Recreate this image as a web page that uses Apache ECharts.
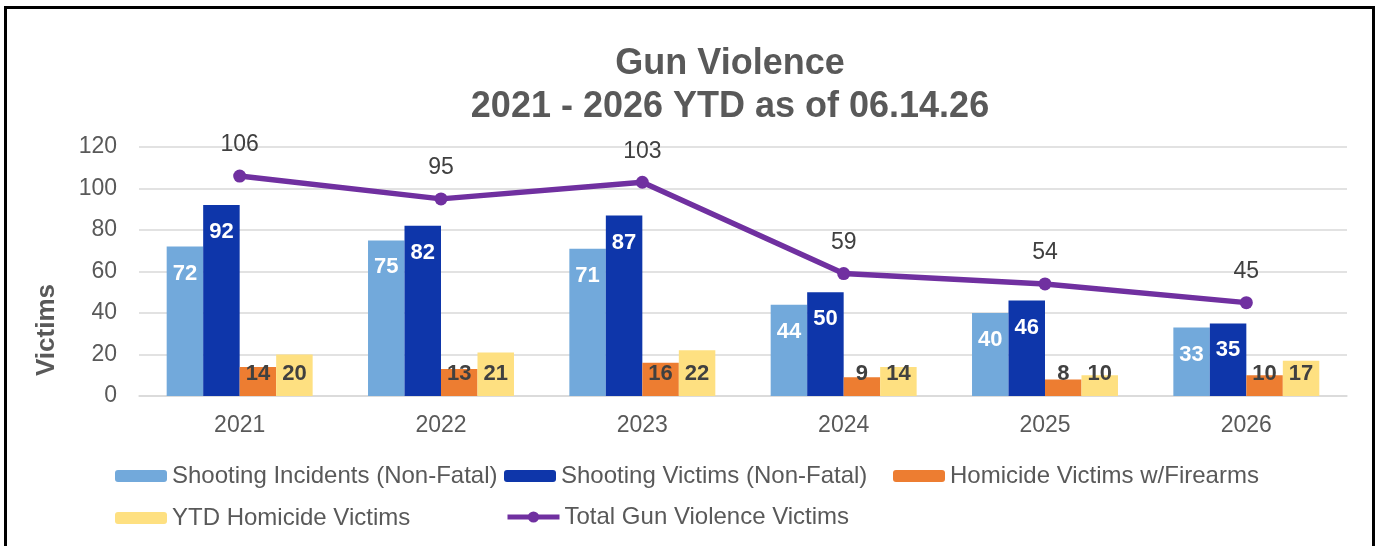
<!DOCTYPE html>
<html>
<head>
<meta charset="utf-8">
<script src="https://cdn.jsdelivr.net/npm/echarts@6/dist/echarts.min.js"></script>
<style>
html,body{margin:0;padding:0;background:#fff;overflow:hidden;}
#chart{position:absolute;left:0;top:0;width:1380px;height:546px;}
#frame{position:absolute;left:4px;top:6px;width:1371px;height:600px;box-sizing:border-box;border:3px solid #000;border-bottom:none;pointer-events:none;}
</style>
</head>
<body>
<div id="chart"></div>
<div id="frame"></div>
<script>
const categories = ['2021','2022','2023','2024','2025','2026'];
const shootingIncidents = [72, 75, 71, 44, 40, 33];
const shootingVictims = [92, 82, 87, 50, 46, 35];
const homicideFirearms = [14, 13, 16, 9, 8, 10];
const ytdHomicide = [20, 21, 22, 14, 10, 17];
const totalVictims = [106, 95, 103, 59, 54, 45];
const yTicks = {min: 0, max: 120, interval: 20};

const FONT = '"Liberation Sans", Arial, sans-serif';
const GRAY = '#595959';
const DARK = '#404040';

const chart = echarts.init(document.getElementById('chart'));

function legendAt(name, left, top, extra) {
  return Object.assign({
    data: [name], left: left, top: top, orient: 'horizontal',
    itemWidth: 52, itemHeight: 12, itemGap: 0, padding: 0,
    textStyle: {fontFamily: FONT, fontSize: 24, color: GRAY, padding: [0,0,0,0]},
    selectedMode: false
  }, extra || {});
}

function blueLabel() {
  return {show: true, position: 'insideTop', distance: 16, color: '#fff',
    fontFamily: FONT, fontSize: 22, fontWeight: 'bold'};
}
function lowLabel() {
  return {show: true, position: 'insideBottom', distance: 11, color: DARK,
    fontFamily: FONT, fontSize: 22, fontWeight: 'bold'};
}

chart.setOption({
  animation: false,
  backgroundColor: '#fff',
  grid: {left: 139, right: 33, top: 147, bottom: 150, containLabel: false},
  graphic: [
    {type: 'text', x: 730, y: 43, style: {
      text: 'Gun Violence\n2021 - 2026 YTD as of 06.14.26',
      align: 'center', verticalAlign: 'top',
      font: 'bold 36px ' + FONT, lineHeight: 43, fill: GRAY}},
    {type: 'text', x: 47, y: 330, rotation: Math.PI / 2, style: {
      text: 'Victims', align: 'center', verticalAlign: 'middle',
      font: 'bold 26px ' + FONT, fill: GRAY}}
  ],
  legend: [
    legendAt('Shooting Incidents (Non-Fatal)', 115, 464),
    legendAt('Shooting Victims (Non-Fatal)', 504, 464),
    legendAt('Homicide Victims w/Firearms', 893, 464),
    legendAt('YTD Homicide Victims', 115, 506),
    legendAt('Total Gun Violence Victims', 505, 505, {itemHeight: 14, lineStyle: {width: 5}})
  ],
  xAxis: {
    type: 'category', data: categories,
    axisLine: {lineStyle: {color: '#D9D9D9', width: 1.5}},
    axisTick: {show: false},
    axisLabel: {color: GRAY, fontFamily: FONT, fontSize: 23, margin: 18}
  },
  yAxis: {
    type: 'value', min: yTicks.min, max: yTicks.max, interval: yTicks.interval,
    axisLine: {show: false}, axisTick: {show: false},
    splitLine: {lineStyle: {color: '#D9D9D9', width: 1.5}},
    axisLabel: {color: GRAY, fontFamily: FONT, fontSize: 23, margin: 22}
  },
  series: [
    {name: 'Shooting Incidents (Non-Fatal)', type: 'bar', data: shootingIncidents,
      itemStyle: {color: '#72A9DB'}, barGap: '0%', barCategoryGap: '27.5%', label: blueLabel()},
    {name: 'Shooting Victims (Non-Fatal)', type: 'bar', data: shootingVictims,
      itemStyle: {color: '#0E36AA'}, label: blueLabel()},
    {name: 'Homicide Victims w/Firearms', type: 'bar', data: homicideFirearms,
      itemStyle: {color: '#ED7D31'}, label: lowLabel()},
    {name: 'YTD Homicide Victims', type: 'bar', data: ytdHomicide,
      itemStyle: {color: '#FEE081'}, label: lowLabel()},
    {name: 'Total Gun Violence Victims', type: 'line', data: totalVictims,
      symbol: 'circle', symbolSize: 13,
      lineStyle: {color: '#7030A0', width: 5.5},
      itemStyle: {color: '#7030A0'},
      label: {show: true, position: 'top', distance: 13, color: DARK,
        fontFamily: FONT, fontSize: 23}}
  ]
});
</script>
</body>
</html>
